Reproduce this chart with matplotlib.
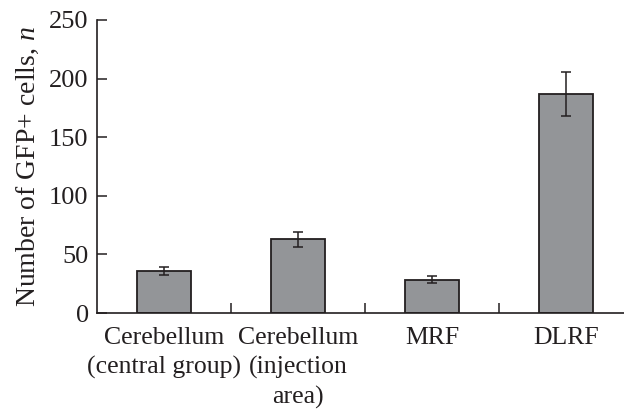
import matplotlib
matplotlib.use("Agg")
import matplotlib.pyplot as plt

categories = ["Cerebellum\n(central group)", "Cerebellum\n(injection\narea)", "MRF", "DLRF"]
values = [36, 63, 28.5, 187]
errors = [3.6, 6.5, 3.2, 19]
yticks = [0, 50, 100, 150, 200, 250]

plt.rcParams['font.family'] = ['Liberation Serif', 'DejaVu Serif']
plt.rcParams['mathtext.fontset'] = 'custom'
plt.rcParams['mathtext.rm'] = 'Liberation Serif'
plt.rcParams['mathtext.it'] = 'Liberation Serif:italic'

dark = '#231f20'
fig = plt.figure(figsize=(6.24, 4.11), dpi=100)
ax = fig.add_axes([97/624, 98/411, 536/624, 293/411])
x = list(range(len(categories)))
ax.bar(x, values, width=0.4, color='#939598', edgecolor=dark, linewidth=1.3,
       yerr=errors, error_kw=dict(ecolor=dark, elinewidth=1.1, capsize=3.5, capthick=1.1))
ax.set_xlim(-0.5, 3.5)
ax.set_ylim(0, 250)
ax.set_yticks(yticks)
ax.set_xticks(x)
ax.set_xticklabels(categories, fontsize=18.5, color=dark, linespacing=1.4)
ax.set_xticks([0.5, 1.5, 2.5], minor=True)
ax.tick_params(axis='x', which='major', length=0, pad=10)
ax.tick_params(axis='x', which='minor', direction='in', length=7, width=1.1, color=dark)
ax.tick_params(axis='y', direction='in', length=7, width=1.1, color=dark, labelsize=19,
               labelcolor=dark, pad=6)
for s in ['top', 'right']:
    ax.spines[s].set_visible(False)
for s in ['left', 'bottom']:
    ax.spines[s].set_linewidth(1.2)
    ax.spines[s].set_color(dark)
ax.set_ylabel("Number of GFP+ cells, $\\mathit{n}$", fontsize=20, color=dark, labelpad=6)
fig.savefig("out.png", dpi=100)
